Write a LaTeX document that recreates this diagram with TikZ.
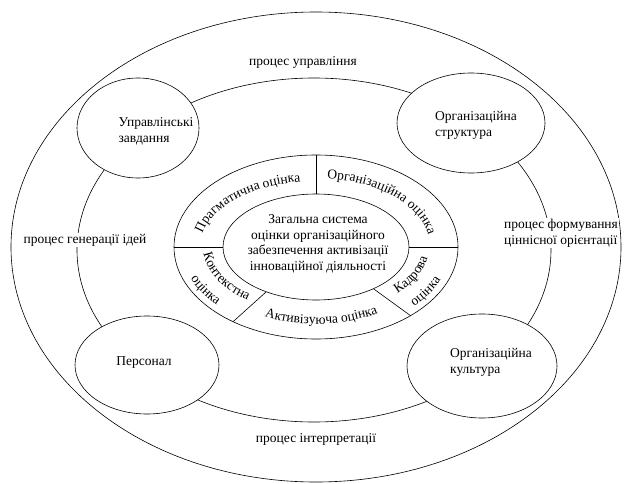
\documentclass[tikz,border=0pt]{standalone}
\usepackage{fontspec}
\setmainfont{Liberation Serif}
\usetikzlibrary{shapes.geometric,decorations.text}

\newcommand{\ringfont}{\fontsize{13.5}{16}\selectfont}

\begin{document}
\begin{tikzpicture}[x=1pt,y=1pt,font=\fontsize{13.5}{16}\selectfont,
    blob/.style={draw,ellipse,inner sep=0pt,line width=0.6pt},
    whiteblob/.style={blob,fill=white},
    proc/.style={fill=white,inner sep=1pt},
    arctext/.style={decorate,decoration={text along path,text align=center,text={#1}}}]

  \useasboundingbox (0,0) rectangle (624,483);

  % Outer rings
  \node[blob,minimum width=610,minimum height=470] (outer) at (316,236) {};
  \node[blob,minimum width=474,minimum height=344] (middle) at (314,233) {};

  % Process labels
  \node[proc] (manage) at (303,421) {процес управління};
  \node[proc] (ideas) at (85,243) {процес генерації ідей};
  \node[proc,align=left] (values) at (561,250) {процес формування\\ціннісної орієнтації};
  \node[proc] (interp) at (316,44) {процес інтерпретації};

  % Four components on the middle ring
  \node[whiteblob,minimum width=122,minimum height=100] (tasks) at (138,355) {};
  \node[whiteblob,minimum width=148,minimum height=100] (struct) at (471,360) {};
  \node[whiteblob,minimum width=144,minimum height=98] (staff) at (147,118) {};
  \node[whiteblob,minimum width=150,minimum height=104] (culture) at (482,117) {};

  \node[align=left] (taskstext) at (156,352) {Управлінські\\завдання};
  \node[align=left] (structtext) at (476,358) {Організаційна\\структура};
  \node (stafftext) at (144,120) {Персонал};
  \node[align=left] (culturetext) at (491,121) {Організаційна\\культура};

  % Central system
  \node[blob,minimum width=284,minimum height=184] (ring) at (316,236) {};
  \node[blob,minimum width=186,minimum height=106] (inner) at (316,236) {};
  \node[align=center,font=\fontsize{13.5}{15.5}\selectfont] (core) at (318,239)
    {Загальна система\\оцінки організаційного\\забезпечення активізації\\інноваційної діяльності};

  % Dividers of the evaluation ring
  \draw[line width=0.6pt] (inner.90) -- (ring.90);
  \draw[line width=0.6pt] (inner.180) -- (ring.180);
  \draw[line width=0.6pt] (inner.0) -- (ring.0);
  \draw[line width=0.6pt] (inner.222) -- (ring.222);
  \draw[line width=0.6pt] (inner.-36) -- (ring.-36);

  % Ring labels
  \path[arctext={|\ringfont|Прагматична оцінка}]
    (ring.center) ++(178:116 and 66) arc[start angle=178,end angle=92,x radius=116,y radius=66];
  \path[arctext={|\ringfont|Організаційна оцінка}]
    (ring.center) ++(88:114 and 69) arc[start angle=88,end angle=4,x radius=114,y radius=69];
  \path[arctext={|\ringfont|Активізуюча оцінка}]
    (ring.center) ++(-124:120 and 77) arc[start angle=-124,end angle=-50,x radius=120,y radius=77];
  \path[arctext={|\ringfont|Контекстна}]
    (ring.center) ++(181:113 and 67) arc[start angle=181,end angle=236,x radius=113,y radius=67];
  \path[arctext={|\ringfont|оцінка}]
    (ring.center) ++(190:135 and 86) arc[start angle=190,end angle=232,x radius=135,y radius=86];
  \path[arctext={|\ringfont|Кадрова}]
    (ring.center) ++(-50:113 and 67) arc[start angle=-50,end angle=-1,x radius=113,y radius=67];
  \path[arctext={|\ringfont|оцінка}]
    (ring.center) ++(-47:135 and 86) arc[start angle=-47,end angle=-18,x radius=135,y radius=86];

\end{tikzpicture}
\end{document}
